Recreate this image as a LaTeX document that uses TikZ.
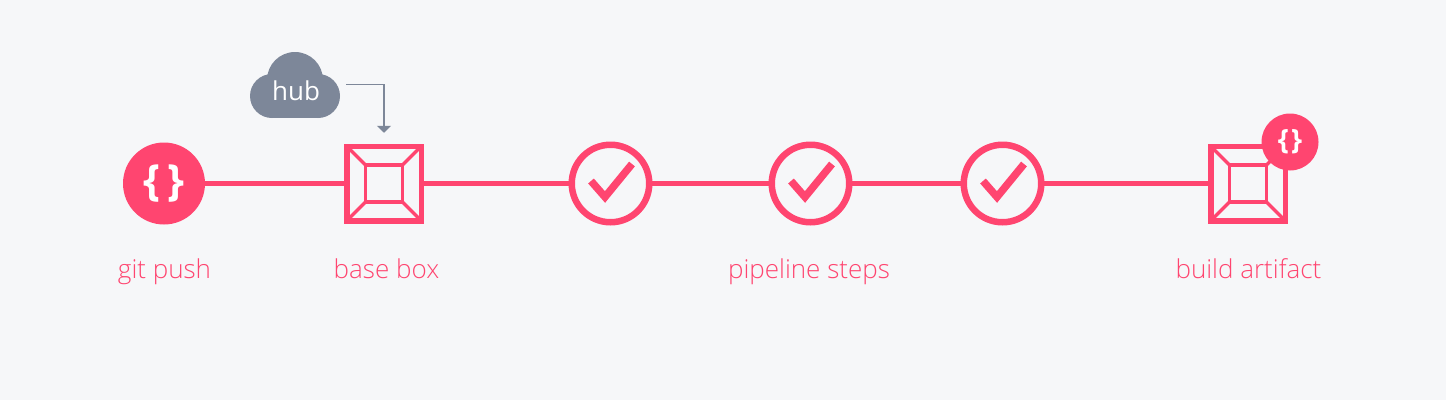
\documentclass[tikz,border=0pt]{standalone}
\usepackage{fontspec}
\setmainfont{Open Sans}[UprightFont=* Light,BoldFont=* Bold]
\newfontfamily\hubfont{Open Sans}
\usetikzlibrary{arrows.meta}
\definecolor{pink}{HTML}{FF4570}
\definecolor{slate}{HTML}{7D8799}
\definecolor{paper}{HTML}{F6F7F9}
\begin{document}
\begin{tikzpicture}[>={Triangle[width=14pt,length=7pt]},x=1pt,y=-1pt,
	every node/.style={inner sep=0pt,outer sep=0pt},
	pushdot/.style={circle,fill=pink,minimum size=82pt,text=white,font=\fontsize{43}{43}\selectfont\bfseries},
	badge/.style={circle,fill=pink,minimum size=57pt,text=white,font=\fontsize{28}{28}\selectfont\bfseries},
	stepdot/.style={circle,draw=pink,line width=6.5pt,minimum size=77.5pt},
	boxouter/.style={rectangle,draw=pink,line width=5.5pt,minimum size=74.5pt},
	boxinner/.style={rectangle,draw=pink,line width=3.5pt,minimum size=37pt},
	boxedge/.style={draw=pink,line width=3.5pt},
	pipe/.style={draw=pink,line width=5.5pt},
	tag/.style={anchor=base,text=pink,font=\fontsize{26}{26}\selectfont}]
	\useasboundingbox[fill=paper] (0,0) rectangle (1446,400);
	% cloud
	\fill[slate] (295,80) circle (28);
	\fill[slate] (272,96) circle (22);
	\fill[slate] (318,96) circle (22);
	\fill[slate] (272,96) rectangle (318,118);
	\node[anchor=base,text=white,font=\fontsize{26}{26}\hubfont] (hub) at (296,100) {hub};
	\coordinate (hubout) at (346,84.5);
	% pipeline
	\node[pushdot] (push) at (164,183.5) {\{\hspace{7pt}\}};
	\node[boxouter] (base) at (384,183.5) {};
	\node[stepdot] (stepa) at (610.5,183.5) {};
	\node[stepdot] (stepb) at (810.5,183.5) {};
	\node[stepdot] (stepc) at (1002.5,183.5) {};
	\node[boxouter] (artifact) at (1248,183.5) {};
	\draw[pipe] (push) -- (base);
	\draw[pipe] (base) -- (stepa);
	\draw[pipe] (stepa) -- (stepb);
	\draw[pipe] (stepb) -- (stepc);
	\draw[pipe] (stepc) -- (artifact);
	\draw[->,slate,line width=1.5pt,shorten >=13.5pt] (hubout) -| (base.north);
	% inner squares
	\node[boxinner] (basein) at (base) {};
	\draw[boxedge] (base.north west) -- (basein.north west);
	\draw[boxedge] (base.north east) -- (basein.north east);
	\draw[boxedge] (base.south west) -- (basein.south west);
	\draw[boxedge] (base.south east) -- (basein.south east);
	\node[boxinner] (artifactin) at (artifact) {};
	\draw[boxedge] (artifact.north west) -- (artifactin.north west);
	\draw[boxedge] (artifact.north east) -- (artifactin.north east);
	\draw[boxedge] (artifact.south west) -- (artifactin.south west);
	\draw[boxedge] (artifact.south east) -- (artifactin.south east);
	\node[badge] (badge) at (1290,142) {\{\hspace{2pt}\}};
	% checks
	\draw[pink,line width=7.5pt] (591,181) -- (605,197) -- (632,164);
	\draw[pink,line width=7.5pt] (791,181) -- (805,197) -- (832,164);
	\draw[pink,line width=7.5pt] (983,181) -- (997,197) -- (1024,164);
	% labels
	\node[tag] (pushtag) at (164.5,278.5) {git push};
	\node[tag] (basetag) at (386.5,278.5) {base box};
	\node[tag] (stepstag) at (809,278.5) {pipeline steps};
	\node[tag] (artifacttag) at (1248.5,278.5) {build artifact};
\end{tikzpicture}
\end{document}
